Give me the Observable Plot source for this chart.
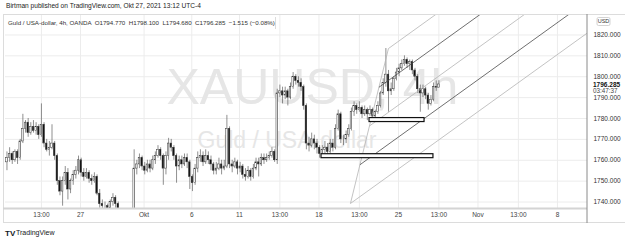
<!DOCTYPE html>
<html><head><meta charset="utf-8">
<script src="https://cdn.jsdelivr.net/npm/d3@7"></script>
<script src="https://cdn.jsdelivr.net/npm/@observablehq/plot@0.6"></script>
<style>
html,body{margin:0;padding:0;background:#fff;}
#chart{width:625px;height:242px;overflow:hidden;}
</style></head><body><div id="chart"></div>
<script>
// ---- data (4h bars, index k = 2..165; 6 bars per trading day) ----
const firstBar = 2;
const barsPerDay = 6;
const barOffset = 0.0417;   // first bar of a day starts at 01:00
const opens = [
1759,1761,1763,1760,1764,1761,1769,1775,1778,1773,
1776,1774,1776,1772,1777,1768,1765,1766,1768,1762,
1750,1745,1750,1754,1746,1750,1753,1755,1760,1754,
1752,1754,1751,1750,1752,1744,1739,1738,1738,1737,
1740,1742,1739,1735,1733,1728,1726,1724,1727,1756,
1758,1761,1757,1755,1758,1756,1760,1762,1765,1762,
1756,1762,1768,1766,1762,1757,1760,1758,1761,1759,
1752,1749,1756,1761,1762,1759,1762,1760,1758,1755,
1756,1758,1756,1757,1775,1758,1757,1759,1756,1757,
1753,1752,1755,1752,1756,1759,1758,1761,1760,1761,
1762,1764,1760,1792,1793,1791,1793,1790,1795,1800,
1798,1797,1795,1786,1768,1767,1770,1768,1766,1763,
1765,1766,1764,1768,1766,1775,1782,1770,1770,1772,
1775,1783,1786,1784,1785,1782,1784,1782,1784,1781,
1783,1786,1792,1797,1801,1793,1794,1799,1802,1804,
1806,1808,1806,1807,1803,1800,1794,1792,1794,1791,
1787,1789,1795,1794.77];
const highs = [
1764,1766,1764,1765,1765,1770,1782,1779,1780,1778,
1779,1778,1777,1787,1778,1770,1769,1777,1769,1763,
1752,1752,1757,1756,1751,1755,1757,1762,1761,1756,
1756,1755,1753,1754,1753,1746,1741,1740,1739,1741,
1744,1743,1740,1736,1734,1730,1728,1729,1765,1760,
1763,1762,1759,1760,1760,1762,1764,1767,1766,1763,
1764,1770.5,1770,1767,1763,1762,1762,1763,1763,1760,
1753,1758,1764,1765,1764,1765,1764,1762,1759,1759,
1761,1760,1760,1781.5,1776,1760,1761,1760,1759,1758,
1756,1757,1756,1758,1761,1761,1763,1763,1763,1764,
1766,1765,1794,1796,1795,1795,1794,1797,1802,1801,
1800,1799,1796,1787,1771,1773,1772,1770,1767,1767,
1769,1768,1770,1770,1777,1784,1783,1772,1774,1777,
1785,1788,1787,1788,1786,1786,1785,1786,1785,1784,
1788,1793,1799,1813.5,1803,1797,1800,1804,1806,1808,
1810,1809,1808,1808,1804,1801,1796,1796,1795,1792,
1791,1797,1798,1798.1];
const lows = [
1755,1759,1758,1759,1758,1760,1768,1773,1771,1772,
1773,1772,1770,1771,1766,1764,1762,1765,1760,1748,
1743,1738,1748,1741,1744,1748,1751,1753,1752,1750,
1751,1749,1748,1749,1743,1737,1736,1735,1734,1735,
1738,1737,1732,1730,1726,1723,1721,1722,1726,1753,
1756,1755,1753,1754,1754,1755,1758,1761,1760,1748,
1753,1760,1764,1760,1749,1755,1756,1757,1756,1746,
1745,1748,1754,1759,1757,1758,1758,1755,1753,1753,
1755,1753,1755,1756,1756,1754,1756,1753,1754,1751,
1750,1751,1750,1751,1755,1752,1757,1758,1759,1760,
1761,1759,1758,1790,1787,1789,1786,1789,1794,1796,
1795,1793,1784,1765,1764,1766,1765,1763,1761,1762,
1763,1762,1763,1764,1765,1774,1768,1767,1768,1771,
1774,1781,1782,1783,1780,1781,1779,1781,1779,1779,
1782,1785,1791,1795,1783,1791,1793,1798,1800,1803,
1805,1804,1803,1801,1798,1792,1783,1790,1789,1784,
1786,1788,1793,1794.68];
const closes = [
1761,1763,1760,1764,1761,1769,1775,1778,1773,1776,
1774,1776,1772,1777,1768,1765,1766,1768,1762,1750,
1745,1750,1754,1746,1750,1753,1755,1760,1754,1752,
1754,1751,1750,1752,1744,1739,1738,1738,1737,1740,
1742,1739,1735,1733,1728,1726,1724,1727,1756,1758,
1761,1757,1755,1758,1756,1760,1762,1765,1762,1756,
1762,1768,1766,1762,1757,1760,1758,1761,1759,1752,
1749,1756,1761,1762,1759,1762,1760,1758,1755,1756,
1758,1756,1757,1775,1758,1757,1759,1756,1757,1753,
1752,1755,1752,1756,1759,1758,1761,1760,1761,1762,
1764,1760,1792,1793,1791,1793,1790,1795,1800,1798,
1797,1795,1786,1768,1767,1770,1768,1766,1763,1765,
1766,1764,1768,1766,1775,1782,1770,1770,1772,1775,
1783,1786,1784,1785,1782,1784,1782,1784,1781,1783,
1786,1792,1797,1801,1793,1794,1799,1802,1804,1806,
1808,1806,1807,1803,1800,1794,1792,1794,1791,1787,
1789,1795,1794.77,1796.285];

// x axis: trading days since Mon Sep 20 (weekends removed)
const xTicks  = [2.5417, 5, 9, 12, 15, 17.5417, 20, 22.5417, 25, 27.5417, 30, 32.5417, 35];
const xLabels = ["13:00","27","Okt","6","11","13:00","18","13:00","25","13:00","Nov","13:00","8"];
const yTicks  = [1740, 1750, 1760, 1770, 1780, 1790, 1800, 1810, 1820];

// drawn rectangles (trading-day start/end, price low/high)
const zoneStart = [23.18, 20.16];
const zoneEnd   = [26.64, 27.20];
const zoneLow   = [1778.3, 1761.0];
const zoneHigh  = [1780.2, 1762.9];

// channel drawing: anchor A, anchor B, slope (price per trading day), levels
const forkA = [21.98, 1739.3];
const forkB = [24.37, 1813.5];
const channelSlope = 5.48;
const channelLevels = [0, 0.25, 0.5, 0.75, 1];
const channelColors = ["#b4b4b4", "#4a4a4a", "#b4b4b4", "#4a4a4a", "#b4b4b4"];

// ---- build tables ----
const candles = opens.map((o, i) => {
  const k = firstBar + i;
  return {t: barOffset + k / barsPerDay, open: o, high: highs[i], low: lows[i], close: closes[i]};
});
const halfBody = 0.048;
const zones = zoneStart.map((s, i) => ({x1: s, x2: zoneEnd[i], y1: zoneLow[i], y2: zoneHigh[i]}));
const xEnd = 40;
const channel = channelLevels.map((f, i) => {
  const x1 = forkA[0] + f * (forkB[0] - forkA[0]);
  const y1 = forkA[1] + f * (forkB[1] - forkA[1]);
  return {x1, y1, x2: xEnd, y2: y1 + channelSlope * (xEnd - x1), c: channelColors[i]};
});
const labelOf = new Map(xTicks.map((t, i) => [t, xLabels[i]]));

const chart = Plot.plot({
  width: 625, height: 242,
  marginLeft: 5, marginRight: 38, marginTop: 14, marginBottom: 34,
  x: {domain: [0.283, 36.89]},
  y: {domain: [1736.9, 1829.8]},
  style: {fontFamily: "'Liberation Sans', Arial, sans-serif", fontSize: "6.5px", background: "#fff", color: "#333"},
  marks: [
    Plot.gridX(xTicks, {stroke: "#ececec", strokeOpacity: 1}),
    Plot.gridY(yTicks, {stroke: "#ececec", strokeOpacity: 1}),
    Plot.text(["XAUUSD, 4h"], {text: d => d, frameAnchor: "top-left", dx: 161, dy: 73, textAnchor: "start", lineAnchor: "middle", fontSize: 50, fill: "#e6e6e6"}),
    Plot.text(["Guld / USA-dollar"], {text: d => d, frameAnchor: "top-left", dx: 192, dy: 126, textAnchor: "start", lineAnchor: "middle", fontSize: 23, fill: "#e6e6e6"}),
    Plot.ruleX(candles, {x: "t", y1: "low", y2: "high", stroke: "#444", strokeWidth: 0.6, clip: true}),
    Plot.rect(candles, {x1: d => d.t - halfBody, x2: d => d.t + halfBody, y1: "open", y2: "close",
      fill: d => d.close >= d.open ? "#fff" : "#111", stroke: "#333", strokeWidth: 0.5, clip: true}),
    Plot.link([{x1: forkA[0], y1: forkA[1], x2: forkB[0], y2: forkB[1]}], {x1: "x1", y1: "y1", x2: "x2", y2: "y2", stroke: "#b4b4b4", strokeWidth: 0.8, clip: true}),
    Plot.link(channel, {x1: "x1", y1: "y1", x2: "x2", y2: "y2", stroke: "c", strokeWidth: 0.8, clip: true}),
    Plot.rect(zones, {x1: "x1", x2: "x2", y1: "y1", y2: "y2", fill: "#fff", stroke: "#111", strokeWidth: 1.2}),
    Plot.axisX(xTicks, {tickFormat: d => labelOf.get(d), tickSize: 0, tickPadding: 4, fill: "#444", label: null}),
    Plot.axisY(yTicks, {anchor: "right", tickSize: 0, tickPadding: 6, tickFormat: d => d.toFixed(3), fill: "#333", label: null})
  ]
});
document.getElementById("chart").appendChild(chart);

// ---- decorations ----
const svg = d3.select(chart);
const g = svg.append("g");
const line = (x1, y1, x2, y2, c, w) => g.append("line").attr("x1", x1).attr("y1", y1).attr("x2", x2).attr("y2", y2).attr("stroke", c).attr("stroke-width", w);
line(3, 14.5, 625, 14.5, "#dcdcdc", 1);
line(3.5, 14, 3.5, 223, "#dcdcdc", 1);
line(3, 222.5, 625, 222.5, "#dcdcdc", 1);
line(3, 208.5, 587, 208.5, "#d4d4d4", 2);
line(587, 14, 587, 223, "#8a8a8a", 1);
line(275.5, 17, 275.5, 29, "#dcdcdc", 1);
const txt = (x, y, s, opts = {}) => g.append("text").attr("x", x).attr("y", y).attr("dy", "0.35em")
  .attr("font-size", opts.size || 6.5).attr("fill", opts.fill || "#333").attr("font-weight", opts.weight || "normal")
  .attr("text-anchor", opts.anchor || "start").attr("font-family", "'Liberation Sans', Arial, sans-serif").text(s);
txt(6, 6, "Birtman published on TradingView.com, Okt 27, 2021 13:12 UTC-4", {size: 6.6, fill: "#222"});
txt(8, 23, "Guld / USA-dollar, 4h, OANDA  O1794.770  H1798.100  L1794.680  C1796.285  \u22121.515 (\u22120.08%)", {size: 6.2, fill: "#333"});
g.append("rect").attr("x", 597).attr("y", 17.5).attr("width", 13).attr("height", 8).attr("rx", 1.5).attr("fill", "#fff").attr("stroke", "#c8c8c8").attr("stroke-width", 0.8);
txt(603.5, 21.5, "USD", {size: 5.5, anchor: "middle", fill: "#333"});
txt(593, 84.5, "1796.285", {size: 6.5, weight: "bold", fill: "#111"});
txt(593, 91, "03:47:37", {size: 6.3, fill: "#444"});
txt(5, 233, "TV", {size: 8, weight: "bold", fill: "#131722"});
txt(16, 233, "TradingView", {size: 7, fill: "#131722"});
</script></body></html>
